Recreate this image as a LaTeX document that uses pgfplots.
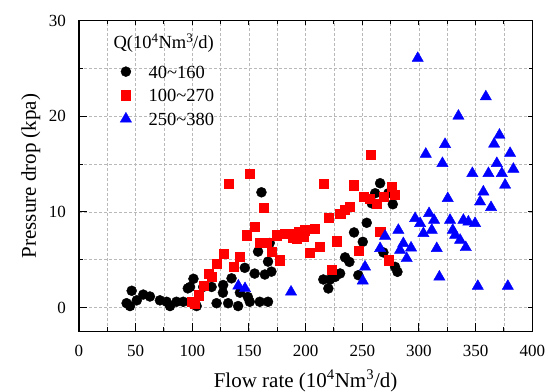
\documentclass[border=0pt]{standalone}
\usepackage{fontspec}
\setmainfont{Liberation Serif}
\usepackage{pgfplots}
\pgfplotsset{compat=1.18}
\definecolor{gridgray}{RGB}{185,185,185}
\begin{document}
\begin{tikzpicture}
\begin{axis}[
  name=main,
  scale only axis, width=453.3pt, height=310.7pt,
  xmin=0, xmax=400, ymin=-2.5, ymax=30,
  xtick={0,50,...,400}, minor xtick={25,75,...,375},
  ytick={0,10,20,30}, minor ytick={5,15,25},
  xtick pos=left, ytick pos=left,
  tick align=inside,
  major tick length=8pt, minor tick length=4pt,
  tick style={black, line width=1pt},
  grid=both,
  major grid style={gridgray, dash pattern=on 3pt off 2pt, line width=0.7pt},
  minor grid style={gridgray, dash pattern=on 3pt off 2pt, line width=0.7pt},
  axis line style={line width=1.2pt},
  /pgf/number format/assume math mode=true,
  ticklabel style={font=\fontsize{17}{20}\selectfont},
  xticklabel style={anchor=center, yshift=-20pt},
  yticklabel style={anchor=east, inner sep=0pt, xshift=-13pt},
  xlabel={Flow rate (10\textsuperscript{4}Nm\textsuperscript{3}/d)},
  ylabel={Pressure drop (kpa)},
  every axis x label/.style={at={(axis description cs:0.5,-0.160)}, anchor=center, font=\fontsize{21}{25}\selectfont},
  every axis y label/.style={at={(axis description cs:-0.106,0.5)}, rotate=90, anchor=center, font=\fontsize{21}{25}\selectfont},
  legend style={draw=none, fill=none, at={(0.081,0.857)}, anchor=north west, inner sep=0pt, outer sep=0pt, row sep=10.6pt, font=\fontsize{18.5}{22}\selectfont, nodes={inner sep=0pt, text height=13pt, text depth=0pt}, cells={anchor=west}},
  legend image code/.code={\draw[#1] plot coordinates {(0pt,0pt)}; \path (-10pt,0pt) (22.6pt,0pt);},
]
\addplot[only marks, mark=*, mark size=5pt, draw=black, fill=black] coordinates {
(46.5,1.75) (42,0.45) (45,0.15) (56.7,1.35) (62.6,1.15) (71.4,0.75) (77.3,0.6) (80.3,0.15)
(86,0.6) (92,0.6) (96,2.0) (51,0.75) (98,2.15) (101,3.0) (109.6,2.15) (117,2.15) (127.2,2.35)
(134.6,3.05) (146.3,4.15) (155,3.55) (164,3.45) (158,5.85) (166.8,4.8) (169.8,3.75) (161,12.05)
(168.3,6.75) (103.8,0.15) (121.4,0.45) (131.6,0.45) (140.4,0.15) (150.7,0.6) (159.5,0.6)
(166.8,0.6) (127,1.55) (142,1.55) (149,1.1)
(265.7,13.0) (261.3,11.95) (273,11.95) (258.3,10.9) (276.9,10.8) (253.9,8.86) (242.7,7.85)
(250.4,6.87) (268.6,5.76) (234.8,5.24) (238.6,4.77) (246.5,3.38) (230.4,3.56) (226,3.2)
(221.5,2.93) (215.6,2.93) (220,1.99) (278.9,4.25) (281,3.73)
};
\addlegendentry{40\textasciitilde 160}
\addplot[only marks, mark=square*, mark size=4.6pt, draw=red, fill=red] coordinates {
(150.9,14.03) (132.4,12.98) (162.7,10.47) (155.3,8.44) (148,7.57) (159.8,6.81) (165.7,6.81)
(170.1,5.82) (177.4,4.95) (174.5,7.57) (181.8,7.75) (190.6,7.57) (188.9,7.26) (127.4,5.65)
(121.5,4.61) (142.1,5.3) (136.2,4.25) (114.1,3.56) (117.1,3.2) (109.7,2.26) (105.3,1.29)
(102.4,0.42) (99.5,0.59)
(257.7,16.02) (215.6,12.98) (242.1,12.8) (276,12.63) (278.9,11.76) (250.9,11.58) (256.8,11.41)
(262.8,10.89) (268.6,11.58) (239.2,10.53) (234.8,10.19) (230.4,9.84) (220,9.38) (208.3,8.27)
(199.5,8.09) (193.6,7.92) (187.7,7.75) (192.1,7.23) (198,7.39) (212.1,6.35) (203.9,5.76)
(227.4,6.94) (246.5,5.93) (265.7,7.92) (273,4.95) (223,3.98)
};
\addlegendentry{100\textasciitilde 270}
\addplot[only marks, mark=triangle*, mark size=6.5pt, draw=blue, fill=blue] coordinates {
(298.9,26.07) (359,22.05) (334.8,20.03) (371,18.04) (366.3,17.1) (323,17.07) (306,16.05)
(380.4,16.13) (320.7,15.08) (368.7,15.08) (347.1,14.03) (361.3,14.03) (373.1,14.03) (383.3,14.48)
(376,12.81) (356.8,12.1) (353.9,11.06) (363.6,10.47) (325.4,11.41) (296.6,9.32) (301,8.8)
(308.9,9.84) (313.3,9.14) (303.9,7.75) (311.3,8.09) (327.4,9.14) (339.2,9.14) (343.6,8.96)
(349.5,8.8) (329.8,8.09) (331.9,7.57) (336.3,7.05) (341.3,6.28) (315.7,6.18) (281.8,8.09)
(270.1,7.47) (265.7,6.18) (286.2,6.7) (293,6.24) (289.2,5.13) (283.3,6.0) (252.4,4.25)
(250.4,2.79) (318,3.2) (351.9,2.23) (378.4,2.23) (187.1,1.63) (140.6,2.26) (146.5,1.99)
};
\addlegendentry{250\textasciitilde 380}
\node[anchor=west, inner sep=0pt, font=\fontsize{18.5}{22}\selectfont] at (rel axis cs:0.0757,0.927) {Q(10\textsuperscript{4}Nm\textsuperscript{3}/d)};
\end{axis}
\begin{axis}[
  at={(main.south west)}, anchor=south west,
  scale only axis, width=453.3pt, height=310.7pt,
  xmin=0, xmax=400, ymin=-2.5, ymax=30,
  xtick={0,50,...,400}, minor xtick={25,75,...,375},
  ytick={0,10,20,30}, minor ytick={5,15,25},
  xtick pos=right, ytick pos=right,
  tick align=inside,
  major tick length=4pt, minor tick length=3pt,
  tick style={black, line width=1pt},
  xticklabels={}, yticklabels={},
  axis line style={line width=1.2pt},
]
\end{axis}
\pgfresetboundingbox
\path ([shift={(-79pt,-60.6pt)}]main.south west) rectangle ([shift={(15.7pt,20.7pt)}]main.north east);
\end{tikzpicture}
\end{document}
